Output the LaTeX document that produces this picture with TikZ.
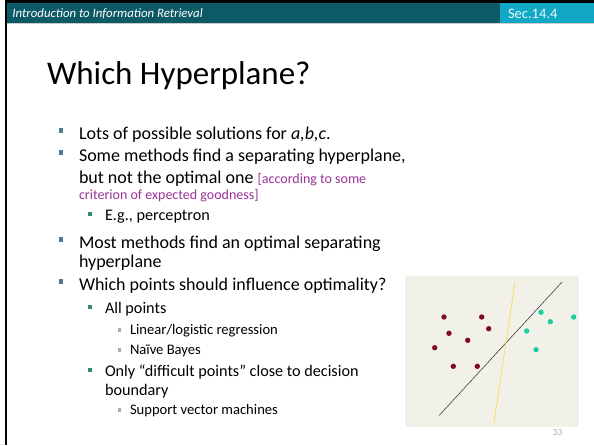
\documentclass[tikz,border=0pt]{standalone}
\usepackage{fontspec}
\setmainfont{Carlito}
\definecolor{hdr}{RGB}{12,90,102}
\definecolor{secbg}{RGB}{16,168,196}
\definecolor{bulA}{RGB}{78,122,148}
\definecolor{bulB}{RGB}{52,140,110}
\definecolor{bulC}{RGB}{170,170,190}
\definecolor{note}{RGB}{153,51,153}
\definecolor{plotbg}{RGB}{242,241,233}
\definecolor{redpt}{RGB}{130,10,40}
\definecolor{tealpt}{RGB}{30,205,160}
\definecolor{sepline}{RGB}{245,222,90}
\definecolor{pagenum}{RGB}{170,170,170}
\begin{document}
\begin{tikzpicture}[x=1pt,y=-1pt,
  txt/.style={anchor=base west,inner sep=0pt,outer sep=0pt},
  lvA/.style={txt,font=\fontsize{18}{20}\selectfont},
  lvB/.style={txt,font=\fontsize{16.2}{18}\selectfont},
  lvC/.style={txt,font=\fontsize{14.6}{16}\selectfont},
  notetxt/.style={txt,text=note,font=\fontsize{14}{15}\selectfont},
  sqA/.style={rectangle,fill=bulA,inner sep=0pt,minimum size=4.4pt},
  sqB/.style={rectangle,fill=bulB,inner sep=0pt,minimum size=3.8pt},
  sqC/.style={rectangle,fill=bulC,inner sep=0pt,minimum size=3.4pt},
  redd/.style={circle,fill=redpt,inner sep=0pt,minimum size=5.4pt},
  teald/.style={circle,fill=tealpt,inner sep=0pt,minimum size=5.4pt}]
\useasboundingbox (0,0) rectangle (594,445);
\fill[white] (0,0) rectangle (594,445);

% header band and frame
\fill[hdr] (7,3) rectangle (594,23);
\fill[secbg] (500,3) rectangle (594,23);
\fill[black] (5,0) rectangle (594,3);
\fill[black] (5,0) rectangle (7,445);
\draw[black!20,line width=0.8pt] (7,23.6) -- (594,23.6);
\node[txt,text=white,font=\fontsize{12.8}{14}\selectfont\itshape] (course) at (12.5,17.8) {Introduction to Information Retrieval};
\node[txt,text=white!92!secbg,font=\fontsize{14.5}{16}\selectfont] (sec) at (508,18.2) {Sec.14.4};

% title
\node[txt,font=\fontsize{33}{38}\selectfont] (title) at (47,84) {Which Hyperplane?};

% bullet list
\node[sqA] (s1) at (61,130.5) {};
\node[lvA] (t1) at (79,139) {Lots of possible solutions for \textit{a,b,c}.};
\node[sqA] (s2) at (61,152.5) {};
\node[lvA] (t2) at (79,161) {Some methods find a separating hyperplane,};
\node[lvA] (t2b) at (79,183) {but not the optimal one {\color{note}\fontsize{14}{15}\selectfont[according to some}};
\node[notetxt] (t2c) at (79,199) {criterion of expected goodness]};
\node[sqB] (s3) at (90,214) {};
\node[lvB] (t3) at (105,220) {E.g., perceptron};
\node[sqA] (s4) at (61,239.5) {};
\node[lvA] (t4) at (79,248) {Most methods find an optimal separating};
\node[lvA] (t4b) at (79,267) {hyperplane};
\node[sqA] (s5) at (61,281.5) {};
\node[lvA] (t5) at (79,290) {Which points should influence optimality?};
\node[sqB] (s6) at (90,307) {};
\node[lvB] (t6) at (105,313) {All points};
\node[sqC] (s7) at (119.3,330) {};
\node[lvC] (t7) at (130,334) {Linear/logistic regression};
\node[sqC] (s8) at (119.3,350) {};
\node[lvC] (t8) at (130,354) {Naïve Bayes};
\node[sqB] (s9) at (90,370) {};
\node[lvB] (t9) at (105,376) {Only “difficult points” close to decision};
\node[lvB] (t9b) at (105,395) {boundary};
\node[sqC] (s10) at (119.3,410) {};
\node[lvC] (t10) at (130,414) {Support vector machines};

% scatter plot with two candidate separators
\fill[plotbg] (405,276) rectangle (579,427);
\coordinate (gA) at (439.3,415.3);
\coordinate (gB) at (562,282);
\coordinate (yA) at (494,422.7);
\coordinate (yB) at (515,282);
\draw[black!75,line width=0.6pt] (gA) -- (gB);
\draw[sepline,line width=0.8pt] (yA) -- (yB);
\node[redd] (r1) at (444,317) {};
\node[redd] (r2) at (481.7,317) {};
\node[redd] (r3) at (449,333.3) {};
\node[redd] (r4) at (488.7,328.7) {};
\node[redd] (r5) at (467.7,340.3) {};
\node[redd] (r6) at (434.7,347.7) {};
\node[redd] (r7) at (453.3,366.3) {};
\node[redd] (r8) at (477.3,366.3) {};
\node[teald] (g1) at (541,312.3) {};
\node[teald] (g2) at (550.3,321.7) {};
\node[teald] (g3) at (573.7,317) {};
\node[teald] (g4) at (526.7,331) {};
\node[teald] (g5) at (536,349.7) {};
\node[txt,text=pagenum,font=\fontsize{9.5}{10}\selectfont] (page) at (552.7,435.7) {33};
\end{tikzpicture}
\end{document}
